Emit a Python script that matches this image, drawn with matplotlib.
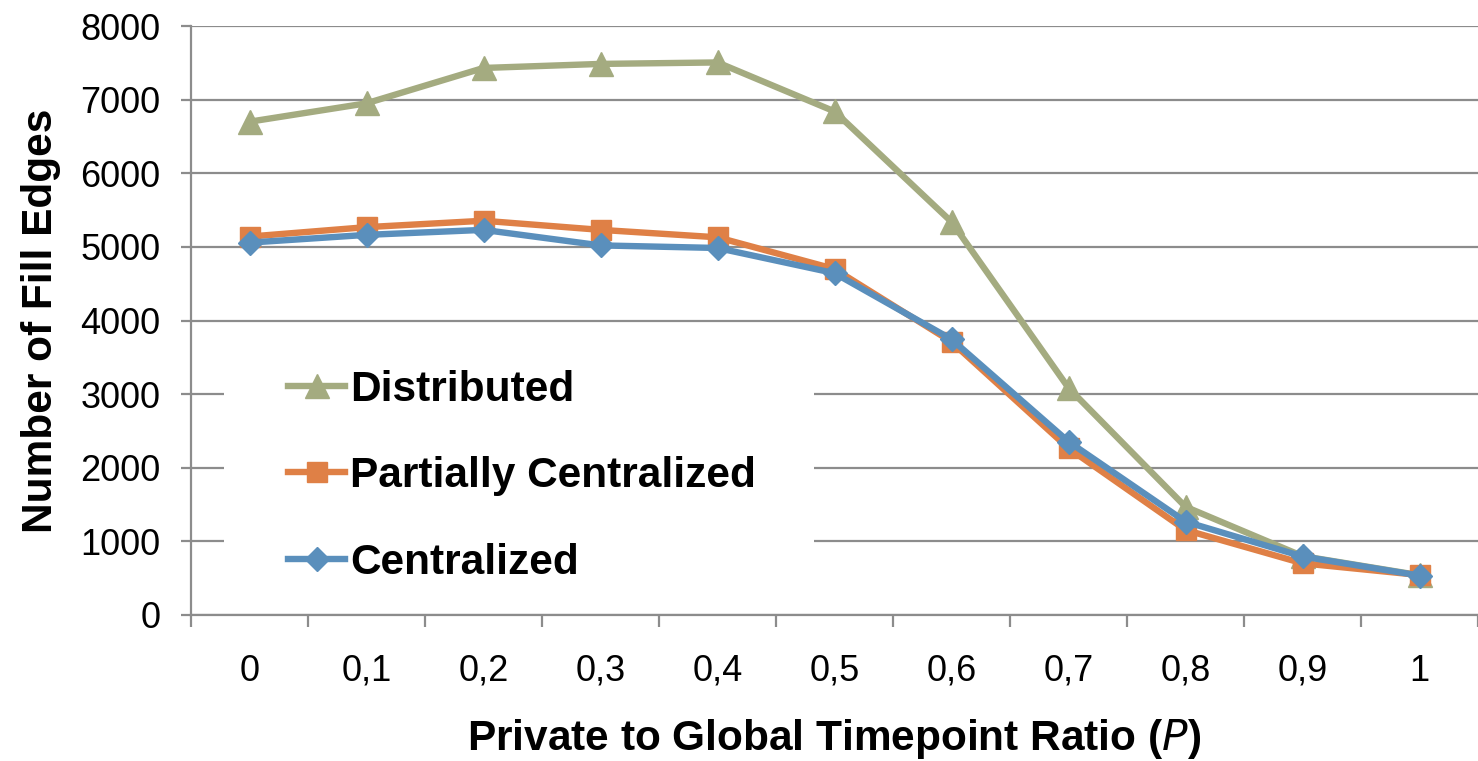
import numpy as np
import matplotlib.pyplot as plt
from matplotlib.patches import Rectangle
from matplotlib.ticker import MultipleLocator, FixedLocator

plt.rcParams['font.family'] = ['Liberation Sans', 'DejaVu Sans']

# data
ratios = ["0", "0,1", "0,2", "0,3", "0,4", "0,5", "0,6", "0,7", "0,8", "0,9", "1"]
distributed = [6700, 6950, 7430, 7485, 7505, 6840, 5340, 3085, 1470, 800, 540]
partially = [5140, 5268, 5355, 5231, 5130, 4700, 3710, 2265, 1155, 702, 543]
centralized = [5058, 5163, 5231, 5020, 4985, 4643, 3745, 2355, 1268, 795, 535]

grey = "#8c8c8c"
c_dist = "#a4ab80"
c_part = "#df8046"
c_cent = "#5a8fbc"

fig = plt.figure(figsize=(14.78, 7.61), dpi=100)
ax = fig.add_axes([191/1478, 1-615/761, 1-191/1478, (615-26)/761])

x = np.arange(len(ratios))
ax.plot(x, distributed, color=c_dist, lw=4.6, marker="^", ms=17, label="Distributed", zorder=3)
ax.plot(x, partially, color=c_part, lw=4.6, marker="s", ms=15, label="Partially Centralized", zorder=4)
ax.plot(x, centralized, color=c_cent, lw=4.6, marker="D", ms=12.5, label="Centralized", zorder=5)

ax.set_xlim(-0.5, len(ratios) - 0.5)
ax.set_ylim(0, 8000)
ax.yaxis.set_major_locator(MultipleLocator(1000))
ax.set_xticks(x)
ax.set_xticklabels(ratios)
ax.xaxis.set_minor_locator(FixedLocator(np.arange(-0.5, len(ratios), 1.0)))

ax.grid(axis="y", color=grey, lw=1.6)
ax.set_axisbelow(True)
for s in ["top", "right"]:
    ax.spines[s].set_visible(False)
for s in ["left", "bottom"]:
    ax.spines[s].set_color(grey)
    ax.spines[s].set_linewidth(1.6)

ax.tick_params(axis="x", which="major", length=0, pad=28, labelsize=26)
ax.tick_params(axis="x", which="minor", length=8.5, width=1.6, color=grey)
ax.tick_params(axis="y", length=7, width=1.6, color=grey, pad=15, labelsize=26)

ax.set_ylabel("Number of Fill Edges", fontsize=30.5, fontweight="bold", labelpad=14)
ax.set_xlabel("Private to Global Timepoint Ratio ($\\bf{\\it{P}}$)", fontsize=30.5,
              fontweight="bold", labelpad=20)

# white legend area hiding the gridlines, as in the reference
ax.add_patch(Rectangle((0.026, 0.05), 0.458, 0.415, transform=ax.transAxes,
                       facecolor="white", edgecolor="none", zorder=2.5))

leg = ax.legend(loc="upper left", bbox_to_anchor=(0.049, 0.474),
                prop={"weight": "bold", "size": 30.5}, numpoints=1, handlelength=1.35,
                handletextpad=0.12, labelspacing=1.1, borderpad=0.3, frameon=False)
leg.set_zorder(6)

fig.savefig("out.png", dpi=100)
